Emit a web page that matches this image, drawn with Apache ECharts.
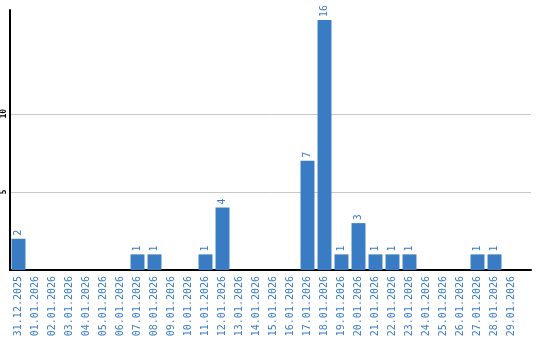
<!DOCTYPE html>
<html><head><meta charset="utf-8">
<script src="https://cdn.jsdelivr.net/npm/echarts@6/dist/echarts.min.js"></script>
<style>html,body{margin:0;padding:0;background:#fff}#c{width:540px;height:340px}</style>
</head><body><div id="c"></div>
<script>
const categories = ["31.12.2025","01.01.2026","02.01.2026","03.01.2026","04.01.2026","05.01.2026","06.01.2026","07.01.2026","08.01.2026","09.01.2026","10.01.2026","11.01.2026","12.01.2026","13.01.2026","14.01.2026","15.01.2026","16.01.2026","17.01.2026","18.01.2026","19.01.2026","20.01.2026","21.01.2026","22.01.2026","23.01.2026","24.01.2026","25.01.2026","26.01.2026","27.01.2026","28.01.2026","29.01.2026"];
const values = [2,0,0,0,0,0,0,1,1,0,0,1,4,0,0,0,0,7,16,1,3,1,1,1,0,0,0,1,1,0];
const yTicks = [5,10];
const blue = '#3a7cc3';
const font = 'DejaVu Sans Mono';
const yMax = 16.64;
const chart = echarts.init(document.getElementById('c'));
chart.setOption({
  animation:false,
  grid:[
    {left:10,right:9,top:10,bottom:70,containLabel:false},
    {left:10,right:20,top:10,bottom:70,containLabel:false}
  ],
  xAxis:[
    {gridIndex:0,type:'value',min:0,max:1,axisLine:{show:true,lineStyle:{color:'#000',width:2}},axisTick:{show:false},axisLabel:{show:false},splitLine:{show:false}},
    {gridIndex:1,type:'category',data:categories,axisLine:{show:false},axisTick:{show:false},
     axisLabel:{rotate:90,color:blue,fontFamily:font,fontSize:10,margin:6,interval:0}}
  ],
  yAxis:[
    {gridIndex:0,type:'value',min:0,max:yMax,interval:5,
     axisLine:{show:true,lineStyle:{color:'#000',width:2}},axisTick:{show:false},
     axisLabel:{rotate:90,fontFamily:font,fontSize:8,fontWeight:'bold',color:'#000',margin:2,
       formatter:v=>yTicks.includes(v)?String(v):''},
     splitLine:{show:true,lineStyle:{color:['transparent','#c8c8c8','#c8c8c8','transparent','transparent']}}},
    {gridIndex:1,type:'value',min:0,max:yMax,show:false,splitLine:{show:false}}
  ],
  series:[{
    type:'bar',xAxisIndex:1,yAxisIndex:1,data:values.map(v=>v===0?null:v),
    barCategoryGap:'18%',itemStyle:{color:blue},
    label:{show:true,position:'top',rotate:90,align:'left',verticalAlign:'middle',distance:3,
      color:blue,fontFamily:font,fontSize:10}
  }]
});
</script></body></html>
